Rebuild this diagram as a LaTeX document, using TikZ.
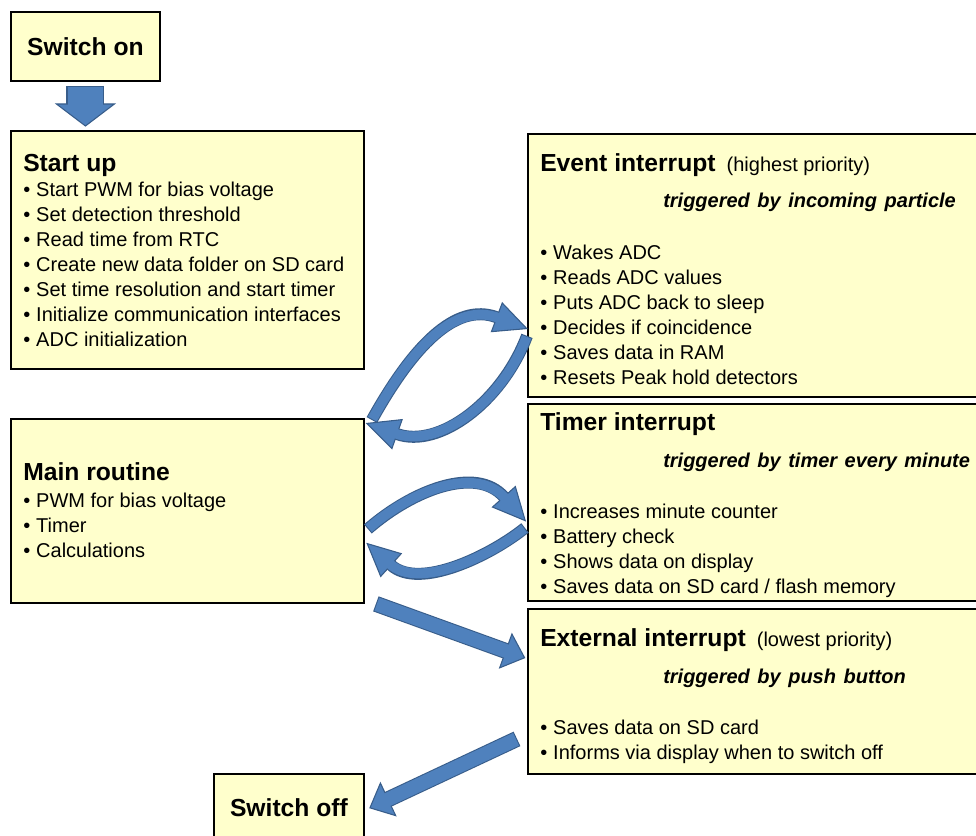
\documentclass[tikz,border=0pt]{standalone}
\usepackage{fontspec}
\setmainfont{Liberation Sans}
\usetikzlibrary{calc,decorations.markings}

\definecolor{boxfill}{HTML}{FFFFCC}
\definecolor{arrowfill}{HTML}{4F81BD}
\definecolor{arrowedge}{HTML}{385D8A}

\newcommand{\titlefont}{\fontsize{18.5}{22}\selectfont\bfseries}
\newcommand{\itm}{\makebox[9.75pt][l]{\textbullet}}
\newcommand{\trig}[1]{\hspace*{92.25pt}{\bfseries\itshape\spaceskip=1.35\fontdimen2\font #1}}

\tikzset{
  box/.style={draw=black, line width=1.4pt, fill=boxfill, anchor=north west, inner sep=0pt},
  txt/.style={anchor=north west, inner sep=0pt, align=left, font=\fontsize{15}{18.75}\selectfont},
  % shaft width, head width, head length; the path ends at the base of the head
  blockarrow/.style n args={3}{
    preaction={draw=arrowedge, line width=#1},
    postaction={decorate, decoration={markings, mark=at position 0.999 with {
      \filldraw[fill=arrowfill, draw=arrowedge, line width=0.8pt, line join=miter]
        (#3,0pt) -- (0pt,0.5*#2) -- (0pt,-0.5*#2) -- cycle;}}},
    postaction={draw=arrowfill, line width=#1-1.6pt, shorten >=-1.2pt, shorten <=0.8pt}
  }
}

\begin{document}
\begin{tikzpicture}[x=0.75pt, y=0.75pt]

    \useasboundingbox (0,0) rectangle (976,-836);

    \node[box, minimum width=111.75pt, minimum height=51.75pt, font=\titlefont] (switchon) at (10,-11) {Switch on};
    \node[box, minimum width=264.75pt, minimum height=178.5pt] (startup) at (10,-130) {};
    \node[box, minimum width=264.75pt, minimum height=138pt] (main) at (10,-418) {};
    \node[box, minimum width=352.5pt, minimum height=197.25pt] (event) at (527,-133) {};
    \node[box, minimum width=352.5pt, minimum height=147.75pt] (timer) at (527,-403) {};
    \node[box, minimum width=352.5pt, minimum height=123.75pt] (ext) at (527,-608) {};
    \node[box, minimum width=112.5pt, minimum height=51pt, font=\titlefont] (switchoff) at (213,-773) {Switch off};

    \node[txt] (startuptext) at ($(startup.north west)+(13,-24)$) {{\titlefont Start up}\\
        \itm Start PWM for bias voltage\\
        \itm Set detection threshold\\
        \itm Read time from RTC\\
        \itm Create new data folder on SD card\\
        \itm Set time resolution and start timer\\
        \itm Initialize communication interfaces\\
        \itm ADC initialization};
    \node[txt] (maintext) at ($(main.north west)+(13,-44)$) {{\titlefont Main routine}\\[1.5pt]
        \itm PWM for bias voltage\\
        \itm Timer\\
        \itm Calculations};
    \node[txt] (eventtext) at ($(event.north west)+(13,-20)$) {{\titlefont Event interrupt}\hspace{8.25pt}(highest priority)\\[8.25pt]
        \trig{triggered by incoming particle}\\[20.25pt]
        \itm Wakes ADC\\
        \itm Reads ADC values\\
        \itm Puts ADC back to sleep\\
        \itm Decides if coincidence\\
        \itm Saves data in RAM\\
        \itm Resets Peak hold detectors};
    \node[txt] (timertext) at ($(timer.north west)+(13,-9)$) {{\titlefont Timer interrupt}\\[9pt]
        \trig{triggered by timer every minute}\\[19.5pt]
        \itm Increases minute counter\\
        \itm Battery check\\
        \itm Shows data on display\\
        \itm Saves data on SD card / flash memory};
    \node[txt] (exttext) at ($(ext.north west)+(13,-20)$) {{\titlefont External interrupt}\hspace{8.25pt}(lowest priority)\\[9pt]
        \trig{triggered by push button}\\[19.5pt]
        \itm Saves data on SD card\\
        \itm Informs via display when to switch off};

    % block arrows
    \path[blockarrow={28.5pt}{43.5pt}{16.5pt}] ($(switchon.south)+(0,-4)$) -- ($(switchon.south |- startup.north)+(0,26)$);
    \path[blockarrow={9pt}{23pt}{24pt}] ($(main.north east)+(7,-2)$) .. controls +(40,72) and +(-42,16) .. ($(event.south west)+(-30,80.5)$);
    \path[blockarrow={9pt}{23pt}{24pt}] ($(event.south west)+(0,62)$) .. controls +(-25,-66) and +(42,-15) .. ($(main.north east)+(32,-16)$);
    \path[blockarrow={9pt}{23pt}{24pt}] ($(main.east)+(3,-18)$) .. controls +(45,39) and +(-28,31.5) .. ($(timer.west)+(-23,5.5)$);
    \path[blockarrow={9pt}{23pt}{24pt}] ($(timer.west)+(-2,-25.5)$) .. controls +(-35,-28) and +(28,-25.5) .. ($(main.east)+(26,-54)$);
    \path[blockarrow={12pt}{27pt}{15pt}] ($(main.south east)+(11,0)$) -- ($(ext.north west)+(-21,-43)$);
    \path[blockarrow={12pt}{27pt}{15pt}] ($(ext.south west)+(-10,36)$) -- ($(switchoff.east)+(23,8.5)$);

\end{tikzpicture}
\end{document}
